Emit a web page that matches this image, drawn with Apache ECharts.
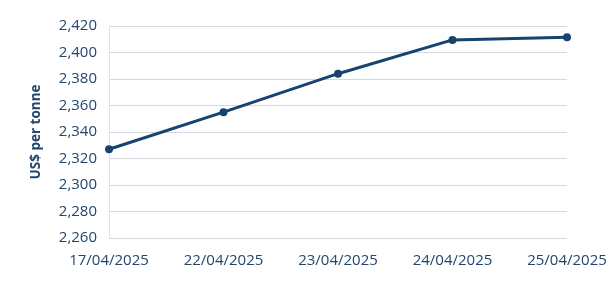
<!DOCTYPE html>
<html><head><meta charset="utf-8">
<script src="https://cdn.jsdelivr.net/npm/echarts@6/dist/echarts.min.js"></script>
<style>html,body{margin:0;padding:0;background:#fff}#c{width:616px;height:281px}</style>
</head><body><div id="c"></div>
<script>
const categories = ['17/04/2025','22/04/2025','23/04/2025','24/04/2025','25/04/2025'];
const values = [2327, 2355, 2384, 2409.5, 2411.5];
const yAxisName = 'US$ per tonne';
const chart = echarts.init(document.getElementById('c'));
const textColor = '#23466d';
chart.setOption({
  animation: false,
  grid: {left: 109, right: 49, top: 26, bottom: 43},
  xAxis: {
    type: 'category', data: categories, boundaryGap: false,
    axisLine: {show: false}, axisTick: {show: false},
    splitLine: {show: false},
    axisLabel: {color: textColor, fontFamily: 'Open Sans', fontSize: 15, margin: 15}
  },
  yAxis: {
    type: 'value', min: 2260, max: 2420, interval: 20,
    name: yAxisName, nameLocation: 'middle', nameGap: 66,
    nameTextStyle: {color: textColor, fontFamily: 'Open Sans', fontSize: 13.5, fontWeight: 'bold'},
    axisLine: {show: true, lineStyle: {color: '#dfe3ea'}}, axisTick: {show: false},
    splitLine: {lineStyle: {color: '#d3d8e3'}},
    axisLabel: {color: textColor, fontFamily: 'Open Sans', fontSize: 15, margin: 12,
      formatter: v => v.toLocaleString('en-US')}
  },
  series: [{
    type: 'line', data: values, symbol: 'circle', symbolSize: 8,
    lineStyle: {color: '#17446e', width: 3}, itemStyle: {color: '#17446e'}
  }]
});
</script></body></html>
